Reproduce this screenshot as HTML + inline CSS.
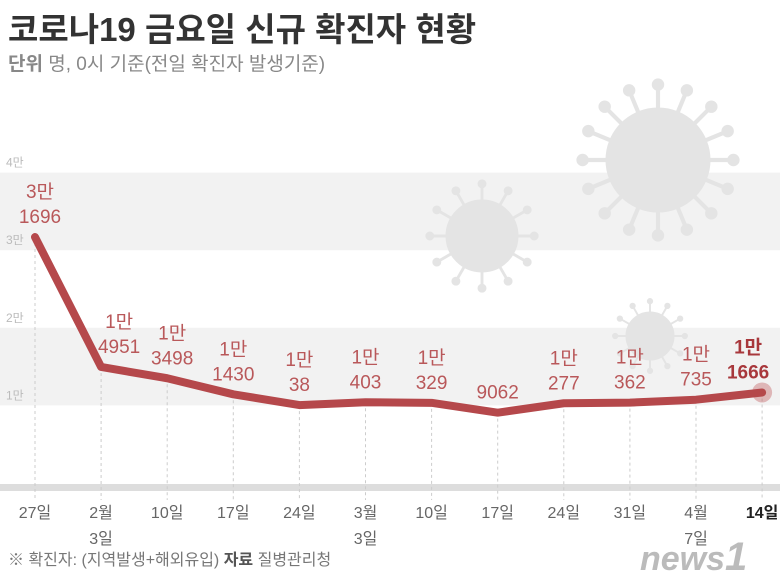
<!DOCTYPE html>
<html><head><meta charset="utf-8">
<style>
body{margin:0;width:780px;height:588px;background:#fff;overflow:hidden;font-family:"Liberation Sans","Noto Sans CJK KR",sans-serif;}
svg{position:absolute;left:0;top:0}
text{font-family:"Liberation Sans","Noto Sans CJK KR",sans-serif;}
</style></head><body>
<svg width="780" height="588">
<g id="grid"></g>
<g id="virus"></g>
<g id="plot"></g>
<text x="8" y="41" font-size="33" font-weight="bold" fill="#333">코로나19 금요일 신규 확진자 현황</text>
<text x="8" y="70" font-size="19" fill="#888"><tspan font-weight="bold">단위</tspan>  명, 0시 기준(전일 확진자 발생기준)</text>
<text x="8" y="565" font-size="16" fill="#777">※ 확진자: (지역발생+해외유입)  <tspan font-weight="bold" fill="#555">자료</tspan> 질병관리청</text>
<text x="640" y="570" font-size="34" font-weight="bold" font-style="italic" fill="#bbb">news<tspan font-size="40">1</tspan></text>
</svg>
<script>
const categories=["27일","2월|3일","10일","17일","24일","3월|3일","10일","17일","24일","31일","4월|7일","14일"];
const values=[31696,14951,13498,11430,10038,10403,10329,9062,10277,10362,10735,11666];
const valueLabels=["3만|1696","1만|4951","1만|3498","1만|1430","1만|38","1만|403","1만|329","9062","1만|277","1만|362","1만|735","1만|1666"];
const yTicks=[10000,20000,30000,40000];
const yTickLabels=["1만","2만","3만","4만"];
const NS="http://www.w3.org/2000/svg";
const x=i=>35+i*66.1;
const y=v=>483-v*0.00776;
const labelShift=[5,18,5,0,0,0,0,0,0,0,0,-14];
function mk(p,tag,at){const e=document.createElementNS(NS,tag);for(const k in at)e.setAttribute(k,at[k]);p.appendChild(e);return e;}
const grid=document.getElementById('grid'),plot=document.getElementById('plot'),vir=document.getElementById('virus');
[[40000,30000],[20000,10000]].forEach(b=>{const r=mk(grid,'rect',{x:0,y:y(b[0]),width:780,height:y(b[1])-y(b[0]),fill:'#f2f2f2'});

});
yTicks.forEach((t,i)=>{const e=mk(grid,'text',{x:6,y:y(t)-6,'font-size':12,fill:'#bbb'});e.textContent=yTickLabels[i];

});
function virus(cx,cy,r,n){const g=mk(vir,'g',{fill:'#e4e4e4',stroke:'#e4e4e4'});


mk(g,'circle',{cx,cy,r});
for(let k=0;k<n;k++){const a=k*2*Math.PI/n;const x2=cx+Math.cos(a)*r*1.45,y2=cy+Math.sin(a)*r*1.45;
mk(g,'line',{x1:cx,y1:cy,x2,y2,'stroke-width':r*0.08});mk(g,'circle',{cx:x2,cy:y2,r:r*0.11});}}
virus(658,160,52,16);virus(482,236,36,12);virus(650,336,24,12);
const ax=mk(plot,'rect',{x:0,y:484,width:780,height:7,fill:'#ddd'});


values.forEach((v,i)=>{const l=mk(plot,'line',{x1:x(i),x2:x(i),y1:y(v),y2:500,stroke:'#ccc','stroke-dasharray':'3,3','stroke-width':1});

});
const last=values.length-1;
const hl=mk(plot,'circle',{cx:x(last),cy:y(values[last]),r:10,fill:'#b9474a','fill-opacity':0.35});


const pl=mk(plot,'polyline',{points:values.map((v,i)=>x(i)+','+y(v)).join(' '),fill:'none',stroke:'#b5484b','stroke-width':8,'stroke-linejoin':'round','stroke-linecap':'round'});


values.forEach((v,i)=>{const parts=valueLabels[i].split('|');const base=y(v)-14;const bold=i===last;
parts.forEach((p,j)=>{const t=mk(plot,'text',{x:x(i)+labelShift[i],y:base-(parts.length-1-j)*25,'text-anchor':'middle','font-size':19,fill:bold?'#a8383c':'#b9585a','font-weight':bold?'bold':'normal'});t.textContent=p;

});
const cp=categories[i].split('|');
cp.forEach((p,j)=>{const t=mk(plot,'text',{x:x(i),y:518+j*26,'text-anchor':'middle','font-size':16,fill:bold?'#222':'#666','font-weight':bold?'bold':'normal'});t.textContent=p;

});});
</script>
</body></html>
